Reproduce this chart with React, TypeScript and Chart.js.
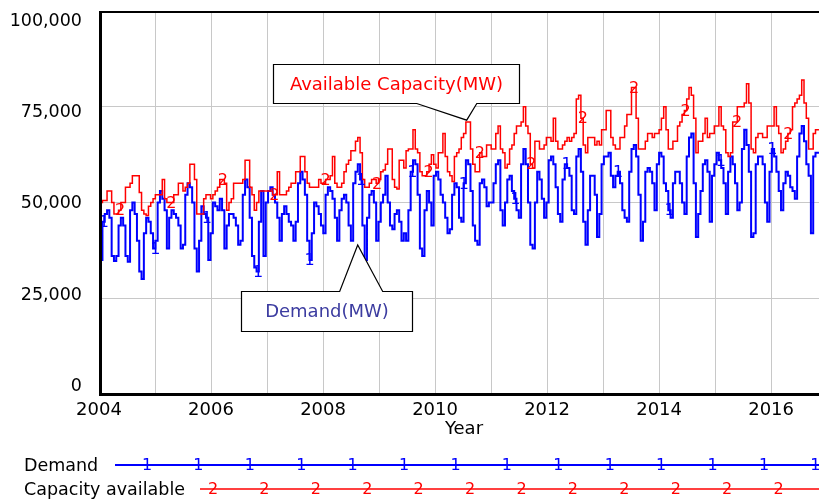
import { useEffect, useRef } from "react";
import { Chart, registerables } from "chart.js";

Chart.register(...registerables);

// ---- data (values in thousands of MW), one sample every 15 days from 2004 ----
const START_YEAR = 2004;
const STEP_YEARS = 15 / 365.25;
const END_YEAR = 2016.855;

const demand2004 = [38, 35, 45, 47, 48, 46, 36, 34.7, 36, 44, 46, 44, 36, 34.5, 48, 50, 47, 40, 32, 30, 42, 46, 45, 42];
const demand2005 = [38, 40, 50, 53, 51, 48, 38, 46, 48, 47, 46, 44, 38, 39, 52, 55, 54, 50, 38, 32, 40, 49, 47, 46];
const demand2006 = [35, 42, 50, 49, 48, 51, 48, 38, 44, 47, 47, 46, 44, 39, 40, 52, 56, 54, 46, 36, 33, 32, 45, 53];
const demand2007 = [36, 50, 53, 54, 52, 50, 46, 40, 47, 49, 47, 45, 44, 40, 45, 55, 58, 56, 52, 40, 35, 42, 50, 49];
const demand2008 = [47, 44, 42, 52, 54, 53, 51, 46, 40, 48, 51, 52, 50, 44, 40, 55, 58, 60, 56, 44, 35, 46, 52, 53];
const demand2009 = [50, 40, 45, 50, 52, 57, 50, 44, 43, 47, 48, 45, 40, 42, 40, 48, 58, 61, 60, 52, 38, 36, 48, 53];
const demand2010 = [50, 44, 57, 58, 56, 52, 50, 46, 42, 43, 52, 55, 54, 46, 45, 55, 61, 60, 53, 44, 40, 39, 55, 56];
const demand2011 = [54, 49, 50, 50, 55, 60, 61, 48, 44, 50, 56, 57, 53, 51, 48, 46, 60, 64, 60, 50, 39, 38, 50, 58];
const demand2012 = [56, 51, 46, 50, 61, 62, 60, 54, 47, 45, 56, 60, 59, 57, 48, 47, 62, 64, 58, 45, 39, 48, 57, 57];
const demand2013 = [52, 41, 47, 60, 62, 62, 63, 57, 54, 57, 58, 55, 48, 46, 45, 58, 64, 65, 62, 52, 40, 45, 58, 59];
const demand2014 = [58, 55, 48, 60, 63, 62, 55, 53, 48, 46, 55, 58, 58, 55, 50, 47, 62, 67, 68, 55, 41, 47, 53, 60];
const demand2015 = [61, 58, 45, 57, 60, 63, 61, 59, 55, 47, 58, 62, 60, 55, 48, 50, 64, 69, 65, 58, 41, 42, 60, 62];
const demand2016 = [62, 60, 50, 45, 58, 64, 62, 58, 53, 48, 55, 58, 57, 54, 53, 51, 62, 68, 70, 66, 60, 57, 42, 62];
const demandTail = [63, 63];

const capacity2004 = [50, 50, 50.5, 50.5, 53, 53, 50, 47, 47, 48, 50, 50, 54, 54, 55, 57, 57, 57, 52.6, 48, 47, 46.6, 49, 50];
const capacity2005 = [51, 52, 52, 52, 56, 51, 50, 50, 50, 52, 52, 55, 55, 53, 54, 55, 60, 60, 56, 47, 47, 47, 51, 52];
const capacity2006 = [52, 51, 52, 53, 54, 56, 56, 55, 48, 50, 51, 55, 55, 55, 55, 56, 61, 61, 54, 52, 48, 50, 53, 53];
const capacity2007 = [53, 53, 53, 53, 52, 52, 58, 52, 52, 52, 53, 54, 55, 55, 58, 58, 62, 62, 58, 55, 54, 54, 54, 54];
const capacity2008 = [56, 55, 55, 56, 56, 57, 62, 55, 54, 54, 55, 58, 60, 61, 63.5, 63.5, 66, 67, 63, 56, 54, 54, 55, 56];
const capacity2009 = [56, 55, 56, 58, 58.5, 60, 64, 64, 56, 54, 53.5, 61, 61, 59, 63.5, 64, 64, 69, 64, 63, 58, 57, 57, 58];
const capacity2010 = [60, 62.5, 60, 59, 63, 63, 68, 62, 58, 57, 55.5, 62, 63, 64, 67, 68, 71, 71, 64, 60, 58, 58, 63, 62];
const capacity2011 = [62, 65, 65, 64, 64, 68, 70, 64, 63, 59, 60, 64, 65, 68, 70, 70, 71, 75, 70, 68, 60, 59, 66, 66];
const capacity2012 = [64, 64, 65, 67, 67, 66, 72, 66, 64, 64, 65, 66, 67, 66, 67, 68, 77, 78, 72, 65, 63, 67, 67, 67];
const capacity2013 = [65, 66, 65, 69, 69, 74, 74, 67, 65, 64, 64, 67, 67, 70, 73, 73, 80, 80, 72, 64, 64, 64, 66, 68];
const capacity2014 = [68, 67, 68, 68, 69, 72, 75, 69, 64, 64, 66, 66, 70, 71, 73, 74, 77, 80, 78, 72, 63, 66, 66, 68];
const capacity2015 = [72, 67, 68, 68, 70, 70, 75, 70, 69, 63, 62, 63, 71, 71, 75, 75, 75, 76, 81, 76, 64, 63, 67, 68];
const capacity2016 = [68, 67, 67, 70, 70, 70, 75, 70, 68, 63, 64, 66, 68, 69, 75, 76, 77, 78, 82, 76, 72, 64, 64, 68];
const capacityTail = [69, 69];

const yTickValues = [0, 25000, 50000, 75000, 100000];
const xLabelYears = [2004, 2006, 2008, 2010, 2012, 2014, 2016];
const xTitle = "Year";
const legendNames = ["Demand", "Capacity available"];
const markerGlyphs = ["1", "2"];
const markerOffsetYears = [0.088, 0.375];
const markerIntervalYears = 0.918;

const capacityNote = {
  text: "Available Capacity(MW)",
  color: "#ff0000",
  box: [2007.1, 2011.495, 86200, 76000],
  base: [2009.673, 2010.745],
  tip: [2010.565, 71500],
};
const demandNote = {
  text: "Demand(MW)",
  color: "#3c3ca0",
  box: [2006.528, 2009.583, 26900, 16450],
  base: [2008.297, 2009.065],
  tip: [2008.619, 38900],
};

const demandValues = [
  demand2004, demand2005, demand2006, demand2007, demand2008, demand2009, demand2010,
  demand2011, demand2012, demand2013, demand2014, demand2015, demand2016, demandTail,
].flat();
const capacityValues = [
  capacity2004, capacity2005, capacity2006, capacity2007, capacity2008, capacity2009, capacity2010,
  capacity2011, capacity2012, capacity2013, capacity2014, capacity2015, capacity2016, capacityTail,
].flat();

const toPoints = (vals: number[]) =>
  vals.map((v, k) => ({ x: START_YEAR + k * STEP_YEARS, y: v * 1000 }));

const BLUE = "#0000ff";
const RED = "#ff0000";
const FONT = '"DejaVu Sans", "Liberation Sans", sans-serif';

function drawCallout(ctx: CanvasRenderingContext2D, xs: any, ys: any, note: any) {
  const L = Math.round(xs.getPixelForValue(note.box[0])) + 0.5;
  const R = Math.round(xs.getPixelForValue(note.box[1])) + 0.5;
  const T = Math.round(ys.getPixelForValue(note.box[2])) + 0.5;
  const B = Math.round(ys.getPixelForValue(note.box[3])) + 0.5;
  const b1 = xs.getPixelForValue(note.base[0]);
  const b2 = xs.getPixelForValue(note.base[1]);
  const tx = xs.getPixelForValue(note.tip[0]);
  const ty = ys.getPixelForValue(note.tip[1]);
  ctx.beginPath();
  if (ty > B) {
    ctx.moveTo(L, T);
    ctx.lineTo(R, T);
    ctx.lineTo(R, B);
    ctx.lineTo(b2, B);
    ctx.lineTo(tx, ty);
    ctx.lineTo(b1, B);
    ctx.lineTo(L, B);
  } else {
    ctx.moveTo(L, B);
    ctx.lineTo(R, B);
    ctx.lineTo(R, T);
    ctx.lineTo(b2, T);
    ctx.lineTo(tx, ty);
    ctx.lineTo(b1, T);
    ctx.lineTo(L, T);
  }
  ctx.closePath();
  ctx.fillStyle = "#ffffff";
  ctx.fill();
  ctx.strokeStyle = "#000000";
  ctx.lineWidth = 1.2;
  ctx.stroke();
  ctx.fillStyle = note.color;
  ctx.font = `18px ${FONT}`;
  ctx.textAlign = "center";
  ctx.textBaseline = "middle";
  ctx.fillText(note.text, (L + R) / 2, (T + B) / 2 + 1);
}

const overlayPlugin = {
  id: "overlay",
  afterDatasetsDraw(chart: any) {
    const { ctx, chartArea: a, scales } = chart;
    const xs = scales.x;
    const ys = scales.y;
    ctx.save();
    // series markers
    ctx.save();
    ctx.beginPath();
    ctx.rect(a.left, a.top, a.right - a.left, a.bottom - a.top);
    ctx.clip();
    ctx.font = `16px ${FONT}`;
    ctx.textAlign = "center";
    ctx.textBaseline = "middle";
    const seriesVals = [demandValues, capacityValues];
    const seriesColors = [BLUE, RED];
    for (let s = 0; s < 2; s++) {
      const vals = seriesVals[s];
      ctx.fillStyle = seriesColors[s];
      for (let t = START_YEAR + markerOffsetYears[s]; t <= END_YEAR; t += markerIntervalYears) {
        const idx = Math.min(vals.length - 1, Math.round((t - START_YEAR) / STEP_YEARS));
        ctx.fillText(markerGlyphs[s], xs.getPixelForValue(t), ys.getPixelForValue(vals[idx] * 1000) + 1);
      }
    }
    ctx.restore();

    // frame
    ctx.strokeStyle = "#000000";
    ctx.lineWidth = 2;
    ctx.beginPath();
    ctx.moveTo(a.left, a.top + 1);
    ctx.lineTo(a.right, a.top + 1);
    ctx.stroke();
    ctx.lineWidth = 3;
    ctx.beginPath();
    ctx.moveTo(a.left + 1.5, a.top);
    ctx.lineTo(a.left + 1.5, a.bottom + 2);
    ctx.moveTo(a.left, a.bottom + 0.5);
    ctx.lineTo(a.right, a.bottom + 0.5);
    ctx.stroke();

    // callouts
    drawCallout(ctx, xs, ys, capacityNote);
    drawCallout(ctx, xs, ys, demandNote);
    ctx.restore();
  },
  afterDraw(chart: any) {
    const { ctx, chartArea: a, scales } = chart;
    const xs = scales.x;
    const ys = scales.y;
    ctx.save();
    // y tick labels
    ctx.fillStyle = "#000000";
    ctx.font = `17.5px ${FONT}`;
    ctx.textAlign = "right";
    ctx.textBaseline = "middle";
    for (const v of yTickValues) {
      const p = ys.getPixelForValue(v);
      const ly = a.top + 10.5 + (p - a.top) * 0.952;
      ctx.fillText(v.toLocaleString("en-US"), 82, ly);
    }
    // x title
    ctx.font = `18px ${FONT}`;
    ctx.textAlign = "center";
    ctx.fillText(xTitle, 464, a.bottom + 35);

    // legend
    const spacing = xs.getPixelForValue(START_YEAR + markerIntervalYears) - xs.getPixelForValue(START_YEAR);
    const rows = [
      { y: 465, lineStart: 115, firstMarker: 147, color: BLUE, width: 2 },
      { y: 489, lineStart: 200, firstMarker: 213, color: RED, width: 1.5 },
    ];
    rows.forEach((r, i) => {
      ctx.fillStyle = "#000000";
      ctx.font = `17.5px ${FONT}`;
      ctx.textAlign = "left";
      ctx.textBaseline = "middle";
      ctx.fillText(legendNames[i], 24, r.y + 1);
      ctx.strokeStyle = r.color;
      ctx.lineWidth = r.width;
      ctx.beginPath();
      ctx.moveTo(r.lineStart, r.y);
      ctx.lineTo(chart.width, r.y);
      ctx.stroke();
      ctx.fillStyle = r.color;
      ctx.font = `16px ${FONT}`;
      ctx.textAlign = "center";
      for (let x = r.firstMarker; x <= chart.width + 6; x += spacing) {
        ctx.fillText(markerGlyphs[i], x, r.y + 1);
      }
    });
    ctx.restore();
  },
};

export default function App() {
  const canvasRef = useRef<HTMLCanvasElement | null>(null);

  useEffect(() => {
    const canvas = canvasRef.current;
    if (!canvas) return;
    const chart = new Chart(canvas, {
      type: "line",
      data: {
        datasets: [
          {
            label: legendNames[1],
            data: toPoints(capacityValues),
            borderColor: RED,
            borderWidth: 1.5,
            stepped: "middle",
            pointRadius: 0,
            fill: false,
          },
          {
            label: legendNames[0],
            data: toPoints(demandValues),
            borderColor: BLUE,
            borderWidth: 2,
            stepped: "middle",
            pointRadius: 0,
            fill: false,
          },
        ],
      },
      options: {
        responsive: false,
        animation: false,
        devicePixelRatio: 1,
        layout: { padding: { top: 11, left: 0, right: 0, bottom: 0 } },
        plugins: {
          legend: { display: false },
          tooltip: { enabled: false },
        },
        scales: {
          x: {
            type: "linear",
            min: START_YEAR,
            max: END_YEAR,
            grid: { color: "#c8c8c8", lineWidth: 1, drawTicks: false },
            border: { display: false },
            ticks: {
              stepSize: 1,
              includeBounds: false,
              autoSkip: false,
              maxRotation: 0,
              padding: 6,
              color: "#000000",
              font: { family: FONT, size: 18 },
              callback: (v: any) => (xLabelYears.includes(Math.round(Number(v))) ? String(Math.round(Number(v))) : ""),
            },
            afterFit: (s: any) => {
              s.height = 105;
            },
          },
          y: {
            min: 0,
            max: 100000,
            grid: { color: "#c8c8c8", lineWidth: 1, drawTicks: false },
            border: { display: false },
            ticks: { stepSize: 25000, display: false },
            afterFit: (s: any) => {
              s.width = 99;
            },
          },
        },
      },
      plugins: [overlayPlugin],
    } as any);
    return () => chart.destroy();
  }, []);

  return (
    <canvas
      ref={canvasRef}
      width={819}
      height={499}
      style={{ position: "fixed", left: 0, top: 0, width: 819, height: 499, background: "#ffffff" }}
    />
  );
}
